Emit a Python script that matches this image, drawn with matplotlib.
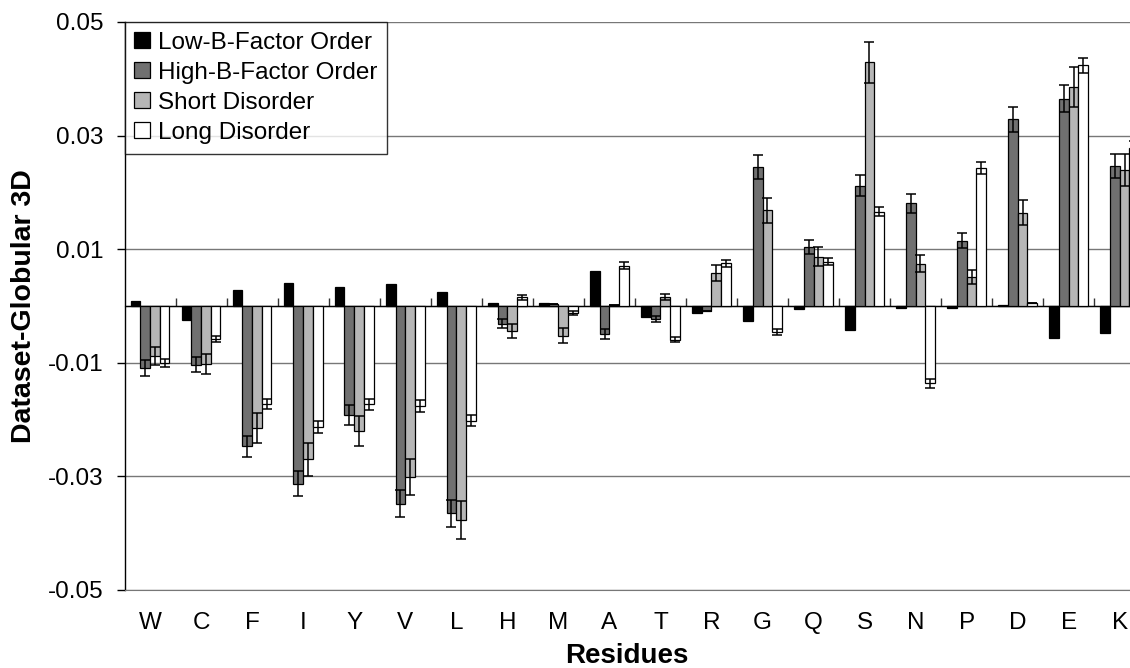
import matplotlib
matplotlib.use("Agg")
import matplotlib.pyplot as plt
import numpy as np

residues = ["W", "C", "F", "I", "Y", "V", "L", "H", "M", "A",
            "T", "R", "G", "Q", "S", "N", "P", "D", "E", "K"]
series_names = ["Low-B-Factor Order", "High-B-Factor Order", "Short Disorder", "Long Disorder"]

low_b = [0.0008, -0.0025, 0.0028, 0.0041, 0.0033, 0.0039, 0.0025, 0.0005, 0.0005, 0.0062,
         -0.0019, -0.0013, -0.0026, -0.0006, -0.0042, -0.0004, -0.0003, 0.0002, -0.0057, -0.0048]
high_b = [-0.0109, -0.0103, -0.0247, -0.0313, -0.0192, -0.0348, -0.0365, -0.0031, 0.0003, -0.0049,
          -0.0023, -0.0008, 0.0244, 0.0104, 0.0212, 0.0181, 0.0115, 0.0329, 0.0365, 0.0246]
high_b_err = [0.0014, 0.0014, 0.0019, 0.0022, 0.0018, 0.0024, 0.0024, 0.0008, 0.0, 0.0009,
              0.0006, 0.0, 0.0021, 0.0013, 0.0019, 0.0017, 0.0013, 0.0022, 0.0024, 0.0021]
short_dis = [-0.0088, -0.0102, -0.0215, -0.0270, -0.0220, -0.0301, -0.0377, -0.0044, -0.0052, 0.0002,
             0.0016, 0.0058, 0.0169, 0.0087, 0.0429, 0.0074, 0.0051, 0.0164, 0.0386, 0.0240]
short_dis_err = [0.0016, 0.0018, 0.0026, 0.0029, 0.0026, 0.0031, 0.0033, 0.0012, 0.0013, 0.0,
                 0.0006, 0.0014, 0.0022, 0.0016, 0.0036, 0.0015, 0.0013, 0.0022, 0.0035, 0.0028]
long_dis = [-0.0100, -0.0058, -0.0172, -0.0213, -0.0173, -0.0176, -0.0202, 0.0015, -0.0012, 0.0071,
            -0.0059, 0.0075, -0.0046, 0.0078, 0.0166, -0.0136, 0.0243, 0.0005, 0.0424, 0.0278]
long_dis_err = [0.0007, 0.0005, 0.0009, 0.0010, 0.0010, 0.0010, 0.0010, 0.0005, 0.0003, 0.0006,
                0.0005, 0.0006, 0.0005, 0.0006, 0.0008, 0.0008, 0.0010, 0.0, 0.0013, 0.0013]
yticks = [-0.05, -0.03, -0.01, 0.01, 0.03, 0.05]
ytick_labels = ["-0.05", "-0.03", "-0.01", "0.01", "0.03", "0.05"]

plt.rcParams['font.family'] = ['Liberation Sans', 'DejaVu Sans']

fig = plt.figure(figsize=(11.3, 6.68), dpi=100)
ax = fig.add_axes([124.5 / 1130, 78 / 668, 1 - 124.5 / 1130, 568 / 668])

x = np.arange(len(residues))
w = 0.19
colors = ["#000000", "#707070", "#b6b6b6", "#ffffff"]
values = [low_b, high_b, short_dis, long_dis]
errors = [None, high_b_err, short_dis_err, long_dis_err]
ekw = dict(elinewidth=1.1, capthick=1.1, ecolor="black")
for i, (vals, errs, col, name) in enumerate(zip(values, errors, colors, series_names)):
    ax.bar(x + (i - 1.5) * w, vals, width=w, color=col, edgecolor="black",
           linewidth=0.9, yerr=errs, capsize=3.5, error_kw=ekw, label=name, zorder=3)

ax.set_ylim(-0.05, 0.05)
ax.set_xlim(-0.5, 19.2)
ax.set_yticks(yticks)
ax.set_yticklabels(ytick_labels)
ax.set_xticks(x)
ax.set_xticklabels(residues)
ax.tick_params(axis='x', length=0, pad=16, labelsize=17.5)
ax.tick_params(axis='y', length=6, width=1, pad=9, labelsize=17.5, direction='out')
ax.yaxis.grid(True, color="#777777", linewidth=1.0)
ax.set_axisbelow(True)

for s in ["top", "right"]:
    ax.spines[s].set_visible(False)
ax.spines["bottom"].set_color("#777777")
ax.spines["left"].set_color("black")
ax.spines["left"].set_linewidth(1.0)

# zero axis with category boundary ticks
zero_frac = (0 - (-0.05)) / (0.05 - (-0.05))
sec = ax.secondary_xaxis(zero_frac)
sec.set_xticks(np.arange(len(residues)) + 0.5)
sec.set_xticklabels([])
sec.tick_params(axis='x', length=6, width=1, direction='out', color="#333333")
sec.spines["bottom"].set_color("black")
sec.spines["bottom"].set_linewidth(1.0)
ax.axhline(0, color="black", linewidth=1.0, zorder=2)

ax.set_xlabel("Residues", fontsize=20, fontweight="bold", labelpad=6)
ax.set_ylabel("Dataset-Globular 3D", fontsize=20.5, fontweight="bold", labelpad=8)

leg = ax.legend(loc="upper left", bbox_to_anchor=(0, 1), borderaxespad=0,
                fontsize=17.5, frameon=True, fancybox=False, handlelength=0.66,
                handleheight=0.66, handletextpad=0.3, labelspacing=0.33,
                borderpad=0.4)
leg.get_frame().set_edgecolor("black")
leg.get_frame().set_linewidth(1.0)

fig.savefig("out.png", dpi=100)
